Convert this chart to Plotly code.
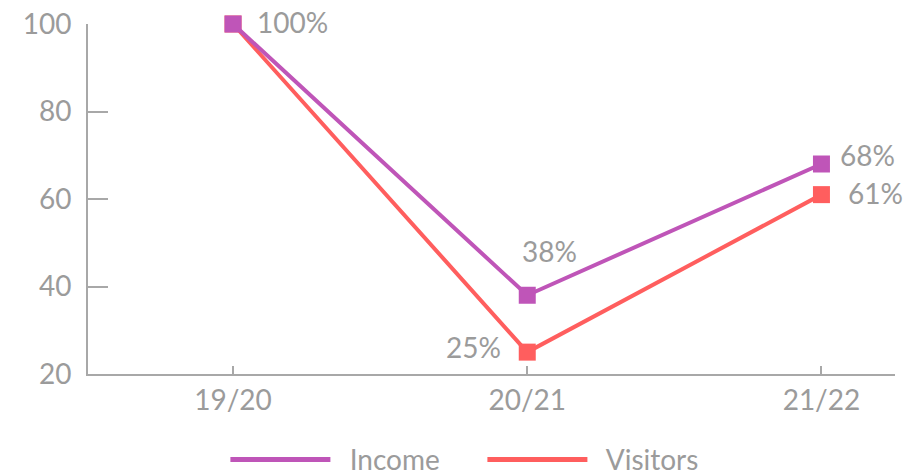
import plotly.graph_objects as go

seasons = ["19/20", "20/21", "21/22"]
income = [100, 38, 68]
visitors = [100, 25, 61]
income_labels = ["100%", "38%", "68%"]
visitors_labels = ["", "25%", "61%"]
y_ticks = [20, 40, 60, 80, 100]

PURPLE = "#BF55B8"
RED = "#FF5E5E"
GREY = "#9B9B9B"
AXIS = "#A8A8A8"
FONT = "Lato"
FS = 28

fig = go.Figure()
fig.add_trace(go.Scatter(
    x=seasons, y=visitors, mode="lines+markers",
    line=dict(color=RED, width=4),
    marker=dict(symbol="square", size=17, color=RED),
    showlegend=False, cliponaxis=False,
))
fig.add_trace(go.Scatter(
    x=seasons, y=income, mode="lines+markers",
    line=dict(color=PURPLE, width=4),
    marker=dict(symbol="square", size=17, color=PURPLE),
    showlegend=False, cliponaxis=False,
))
# legend entries (line only)
fig.add_trace(go.Scatter(x=[None], y=[None], mode="lines", name="  Income",
                         line=dict(color=PURPLE, width=5)))
fig.add_trace(go.Scatter(x=[None], y=[None], mode="lines", name="  Visitors",
                         line=dict(color=RED, width=5)))

# data labels: (series values, labels, anchor, xshift, yshift)
label_specs = [
    (income, income_labels,
     [("left", 22, 2), ("center", 22, 44), ("left", 17, 9)]),
    (visitors, visitors_labels,
     [("left", 22, 0), ("right", -24, 5), ("left", 25, 2)]),
]
for vals, labs, specs in label_specs:
    for s, v, t, (anc, dx, dy) in zip(seasons, vals, labs, specs):
        if not t:
            continue
        fig.add_annotation(x=s, y=v, text=t, showarrow=False,
                           xanchor=anc, yanchor="middle", xshift=dx, yshift=dy,
                           font=dict(family=FONT, size=FS, color=GREY))

fig.update_layout(
    width=920, height=476,
    margin=dict(l=88, r=25, t=24, b=102),
    paper_bgcolor="white", plot_bgcolor="white",
    font=dict(family=FONT, size=FS, color=GREY),
    legend=dict(orientation="h", xref="container", yref="container",
                x=0.245, xanchor="left", y=0.034, yanchor="middle",
                itemwidth=100, entrywidth=142,
                font=dict(family=FONT, size=FS, color=GREY),
                traceorder="normal"),
    xaxis=dict(
        type="category", range=[-0.493, 2.25], automargin=False,
        showline=True, linecolor=AXIS, linewidth=2,
        ticks="inside", ticklen=8, tickwidth=2, tickcolor=AXIS,
        showgrid=False, zeroline=False,
        tickfont=dict(family=FONT, size=FS, color=GREY),
    ),
    yaxis=dict(
        range=[20, 100], tickvals=y_ticks, automargin=False,
        showline=True, linecolor=AXIS, linewidth=2,
        ticks="inside", ticklen=20, tickwidth=2, tickcolor=AXIS,
        showgrid=False, zeroline=False, ticklabelstandoff=9,
        tickfont=dict(family=FONT, size=FS, color=GREY),
    ),
)

fig.write_html("out.html", config={"displayModeBar": False},
               post_script="document.body.style.margin='0';")
